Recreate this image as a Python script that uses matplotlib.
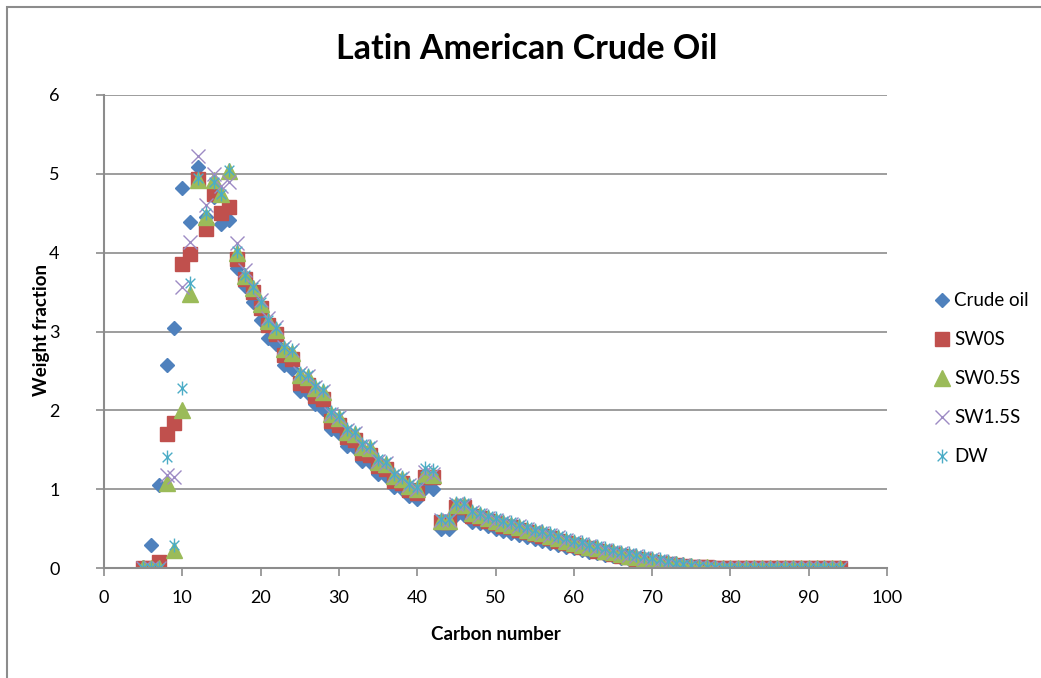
import matplotlib
matplotlib.use('Agg')
import matplotlib.pyplot as plt
from matplotlib.path import Path
from matplotlib.patches import Rectangle

plt.rcParams['font.family'] = ['Lato', 'DejaVu Sans']

# carbon numbers 5..94
carbon = list(range(5, 95))

crude_oil = [0.02, 0.30, 1.05, 2.58, 3.04, 4.82, 4.39, 5.08, 4.45, 4.70,
             4.36, 4.41, 3.80, 3.58, 3.38, 3.15, 2.92, 2.84, 2.57, 2.52,
             2.25, 2.22, 2.08, 2.02, 1.76, 1.72, 1.55, 1.52, 1.36, 1.34,
             1.20, 1.17, 1.03, 1.00, 0.92, 0.88, 1.02, 1.00, 0.50, 0.50,
             0.68, 0.68, 0.58, 0.57, 0.53, 0.50, 0.47, 0.45, 0.42, 0.40,
             0.37, 0.35, 0.32, 0.30, 0.27, 0.25, 0.23, 0.21, 0.19, 0.17,
             0.15, 0.13, 0.11, 0.09, 0.08, 0.06, 0.05, 0.04, 0.03, 0.02,
             0.01, 0.01, 0.0, 0.0, 0.0, 0.0, 0.0, 0.0, 0.0, 0.0,
             0.0, 0.0, 0.0, 0.0, 0.0, 0.0, 0.0, 0.0, 0.0, 0.0]

sw0s = [0.0, 0.0, 0.08, 1.70, 1.84, 3.85, 3.98, 4.93, 4.30, 4.75,
        4.50, 4.58, 3.92, 3.67, 3.50, 3.30, 3.08, 2.97, 2.70, 2.65,
        2.35, 2.32, 2.18, 2.14, 1.86, 1.82, 1.66, 1.62, 1.46, 1.44,
        1.29, 1.26, 1.11, 1.08, 0.99, 0.95, 1.15, 1.15, 0.58, 0.58,
        0.78, 0.78, 0.66, 0.64, 0.60, 0.57, 0.54, 0.52, 0.49, 0.46,
        0.43, 0.41, 0.38, 0.35, 0.32, 0.29, 0.27, 0.25, 0.22, 0.20,
        0.18, 0.16, 0.14, 0.12, 0.10, 0.08, 0.07, 0.05, 0.04, 0.03,
        0.02, 0.01, 0.01, 0.0, 0.0, 0.0, 0.0, 0.0, 0.0, 0.0,
        0.0, 0.0, 0.0, 0.0, 0.0, 0.0, 0.0, 0.0, 0.0, 0.0]

sw05s = [0.0, 0.0, 0.0, 1.08, 0.23, 2.00, 3.48, 4.92, 4.45, 4.92,
         4.75, 5.03, 4.00, 3.70, 3.55, 3.35, 3.13, 3.02, 2.78, 2.73,
         2.45, 2.42, 2.28, 2.23, 1.95, 1.90, 1.73, 1.70, 1.54, 1.52,
         1.35, 1.32, 1.17, 1.13, 1.04, 1.00, 1.20, 1.18, 0.60, 0.60,
         0.80, 0.80, 0.70, 0.67, 0.63, 0.60, 0.57, 0.55, 0.52, 0.49,
         0.46, 0.44, 0.41, 0.38, 0.35, 0.32, 0.30, 0.27, 0.25, 0.22,
         0.20, 0.18, 0.16, 0.14, 0.12, 0.10, 0.08, 0.06, 0.05, 0.04,
         0.03, 0.02, 0.01, 0.0, 0.0, 0.0, 0.0, 0.0, 0.0, 0.0,
         0.0, 0.0, 0.0, 0.0, 0.0, 0.0, 0.0, 0.0, 0.0, 0.0]

sw15s = [0.0, 0.0, 0.0, 1.18, 1.16, 3.57, 4.14, 5.22, 4.60, 5.00,
         4.85, 4.90, 4.12, 3.78, 3.58, 3.40, 3.17, 3.06, 2.80, 2.76,
         2.47, 2.44, 2.30, 2.25, 1.96, 1.92, 1.75, 1.71, 1.55, 1.53,
         1.36, 1.33, 1.18, 1.14, 1.05, 1.01, 1.22, 1.20, 0.61, 0.61,
         0.81, 0.80, 0.71, 0.68, 0.64, 0.61, 0.58, 0.56, 0.53, 0.50,
         0.47, 0.45, 0.42, 0.39, 0.36, 0.33, 0.31, 0.28, 0.26, 0.23,
         0.21, 0.19, 0.17, 0.15, 0.13, 0.11, 0.09, 0.07, 0.05, 0.04,
         0.03, 0.02, 0.01, 0.0, 0.0, 0.0, 0.0, 0.0, 0.0, 0.0,
         0.0, 0.0, 0.0, 0.0, 0.0, 0.0, 0.0, 0.0, 0.0, 0.0]

dw = [0.0, 0.0, 0.0, 1.41, 0.29, 2.28, 3.62, 4.95, 4.50, 4.90,
      4.75, 5.05, 4.02, 3.72, 3.57, 3.37, 3.15, 3.05, 2.80, 2.76,
      2.48, 2.45, 2.31, 2.26, 1.98, 1.93, 1.76, 1.73, 1.57, 1.55,
      1.38, 1.35, 1.20, 1.16, 1.07, 1.03, 1.27, 1.25, 0.62, 0.62,
      0.83, 0.82, 0.73, 0.70, 0.66, 0.63, 0.60, 0.58, 0.55, 0.52,
      0.49, 0.47, 0.44, 0.41, 0.38, 0.35, 0.33, 0.30, 0.28, 0.25,
      0.23, 0.21, 0.19, 0.17, 0.15, 0.13, 0.11, 0.09, 0.07, 0.05,
      0.04, 0.03, 0.02, 0.01, 0.0, 0.0, 0.0, 0.0, 0.0, 0.0,
      0.0, 0.0, 0.0, 0.0, 0.0, 0.0, 0.0, 0.0, 0.0, 0.0]

# excel style asterisk: X plus a vertical bar
star = Path([(0, -1), (0, 1), (-0.7, -0.7), (0.7, 0.7), (-0.7, 0.7), (0.7, -0.7)],
            [Path.MOVETO, Path.LINETO, Path.MOVETO, Path.LINETO, Path.MOVETO, Path.LINETO])

fig = plt.figure(figsize=(10.41, 6.78), dpi=100)
ax = fig.add_axes([0.0999, 0.162, 0.7522, 0.698])

ax.plot(carbon, crude_oil, ls='none', marker='D', ms=7.5, color='#4F81BD', label='Crude oil')
ax.plot(carbon, sw0s, ls='none', marker='s', ms=10, color='#C0504D', label='SW0S')
ax.plot(carbon, sw05s, ls='none', marker='^', ms=11, color='#9BBB59', label='SW0.5S')
ax.plot(carbon, sw15s, ls='none', marker='x', ms=10, mew=1.0, color='#9D8BC4', label='SW1.5S')
ax.plot(carbon, dw, ls='none', marker=star, ms=10, mew=1.0, color='#4BACC6', label='DW')

ax.set_xlim(0, 100)
ax.set_ylim(0, 6)
ax.set_xticks(range(0, 101, 10))
ax.set_yticks(range(0, 7))
ax.grid(axis='y', color='#8c8c8c', lw=1.2)
ax.set_axisbelow(True)
for s in ['top', 'right']:
    ax.spines[s].set_visible(False)
for s in ['left', 'bottom']:
    ax.spines[s].set_color('#8c8c8c')
    ax.spines[s].set_linewidth(1.5)
ax.tick_params(axis='both', colors='#8c8c8c', length=6, width=1.2, labelsize=13, labelcolor='black')
ax.tick_params(axis='x', pad=10)
ax.tick_params(axis='y', pad=26)

ax.set_title('Latin American Crude Oil', fontsize=24.5, fontweight='bold', pad=26, x=0.54)
ax.set_xlabel('Carbon number', fontsize=13.5, fontweight='bold', labelpad=14)
ax.set_ylabel('Weight fraction', fontsize=13.5, fontweight='bold')
ax.yaxis.set_label_coords(-0.069, 0.503)

ax.legend(loc='center left', bbox_to_anchor=(1.045, 0.40), frameon=False, fontsize=13.5,
          labelspacing=1.17, handletextpad=0.1, handlelength=1.1, borderpad=0)

# outer chart border
fig.add_artist(Rectangle((7 / 1041, -0.1), 1.2, (678 - 7) / 678 + 0.1, transform=fig.transFigure,
                         fill=False, edgecolor='#8c8c8c', lw=1.5))

fig.savefig('out.png', dpi=100)
